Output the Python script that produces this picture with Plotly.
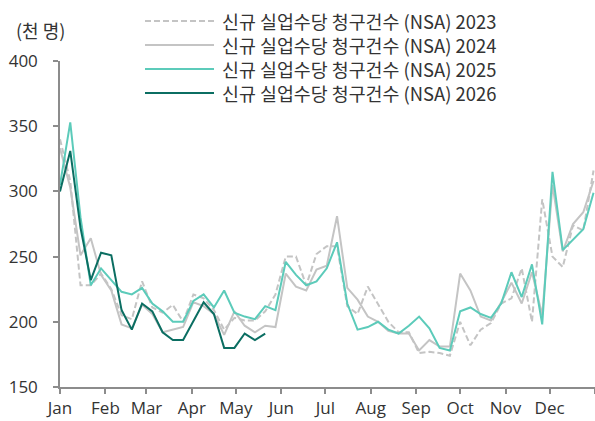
import plotly.graph_objects as go
import pandas as pd

# ---- data (weekly initial claims, NSA, thousand persons) ----
week_dates = pd.date_range("2001-01-01", periods=53, freq="7D")  # common calendar for overlay

claims_2023 = [340, 308, 228, 228, 237, 225, 205, 202, 231, 211, 207, 213, 200, 221, 218, 209,
               194, 203, 201, 201, 208, 221, 250, 250, 228, 252, 258, 258, 212, 206, 227, 214,
               200, 192, 192, 176, 177, 176, 174, 200, 182, 194, 199, 214, 218, 241, 200, 294,
               250, 242, 274, 270, 316]
claims_2024 = [333, 303, 251, 264, 236, 224, 198, 195, 213, 206, 192, 194, 196, 215, 212, 206,
               190, 208, 197, 192, 197, 196, 237, 227, 224, 240, 243, 281, 226, 217, 204, 200,
               193, 191, 191, 178, 186, 181, 181, 237, 224, 204, 201, 215, 230, 214, 238, 205,
               305, 254, 275, 284, 308]
claims_2025 = [305, 353, 280, 228, 241, 232, 223, 221, 226, 214, 208, 200, 200, 216, 221, 211,
               224, 207, 204, 202, 212, 209, 246, 236, 228, 231, 241, 261, 214, 194, 196, 200,
               194, 191, 197, 204, 195, 180, 178, 208, 211, 206, 203, 214, 238, 219, 244, 198,
               315, 255, 263, 271, 299]
claims_2026 = [300, 331, 272, 232, 253, 251, 209, 194, 214, 208, 192, 186, 186, 200, 215, 206,
               180, 180, 191, 186, 191]

series_names = ["신규 실업수당 청구건수 (NSA) 2023", "신규 실업수당 청구건수 (NSA) 2024",
                "신규 실업수당 청구건수 (NSA) 2025", "신규 실업수당 청구건수 (NSA) 2026"]
series_values = [claims_2023, claims_2024, claims_2025, claims_2026]
y_ticks = [150, 200, 250, 300, 350, 400]
unit_label = "(천 명)"

# ---- styles ----
colors = ["#c4c4c4", "#c4c4c4", "#5ccbba", "#0b6e62"]
dashes = ["6px,3px", "solid", "solid", "solid"]
FONT = "Open Sans, Noto Sans CJK KR, sans-serif"
KFONT = "Noto Sans CJK KR, sans-serif"
TEXT = "#333333"

fig = go.Figure()
for name, vals, c, d in zip(series_names, series_values, colors, dashes):
    fig.add_trace(go.Scatter(x=week_dates[:len(vals)], y=vals, mode="lines", name=name,
                             line=dict(color=c, width=2, dash=d), showlegend=False))

W, H = 595, 421
L, R, T, B = 60, 0, 61, 34
pw, ph = W - L - R, H - T - B

def px(xp):
    return (xp - L) / pw

def py(yp):
    return (H - B - yp) / ph

# manual legend (long line samples as in the reference)
row_y = [21, 45, 69, 93]
for name, c, d, ry in zip(series_names, colors, dashes, row_y):
    fig.add_shape(type="line", xref="paper", yref="paper",
                  x0=px(145), x1=px(214), y0=py(ry), y1=py(ry),
                  line=dict(color=c, width=2, dash=d))
    fig.add_annotation(xref="paper", yref="paper", x=px(221), y=py(ry), text=name,
                       showarrow=False, xanchor="left", yanchor="middle", borderpad=0,
                       font=dict(family=KFONT, size=18.4, color=TEXT))

fig.add_annotation(xref="paper", yref="paper", x=px(15), y=py(30), text=unit_label,
                   showarrow=False, xanchor="left", yanchor="middle", borderpad=0,
                   font=dict(family=KFONT, size=18, color=TEXT))

fig.update_layout(
    width=W, height=H,
    margin=dict(l=L, r=R, t=T, b=B, pad=0),
    paper_bgcolor="white", plot_bgcolor="white",
    font=dict(family=FONT, size=17, color=TEXT),
    xaxis=dict(type="date", range=["2001-01-01", "2002-01-01"],
               tick0="2001-01-01", dtick="M1", tickformat="%b",
               showgrid=False, zeroline=False,
               showline=True, linecolor="#8c8c8c", linewidth=1.5,
               ticks="outside", ticklen=5, tickcolor="#8c8c8c", tickwidth=1.5,
               tickfont=dict(family=FONT, size=17, color=TEXT)),
    yaxis=dict(range=[150, 400], tickvals=y_ticks,
               showgrid=False, zeroline=False,
               showline=True, linecolor="#8c8c8c", linewidth=1.5,
               ticks="outside", ticklen=5, tickcolor="#8c8c8c", tickwidth=1.5,
               ticklabelstandoff=12,
               tickfont=dict(family=FONT, size=17, color=TEXT)),
)

fig.write_html("out.html", config={"displayModeBar": False},
               post_script="document.body.style.margin='0';document.body.style.overflow='hidden';")
